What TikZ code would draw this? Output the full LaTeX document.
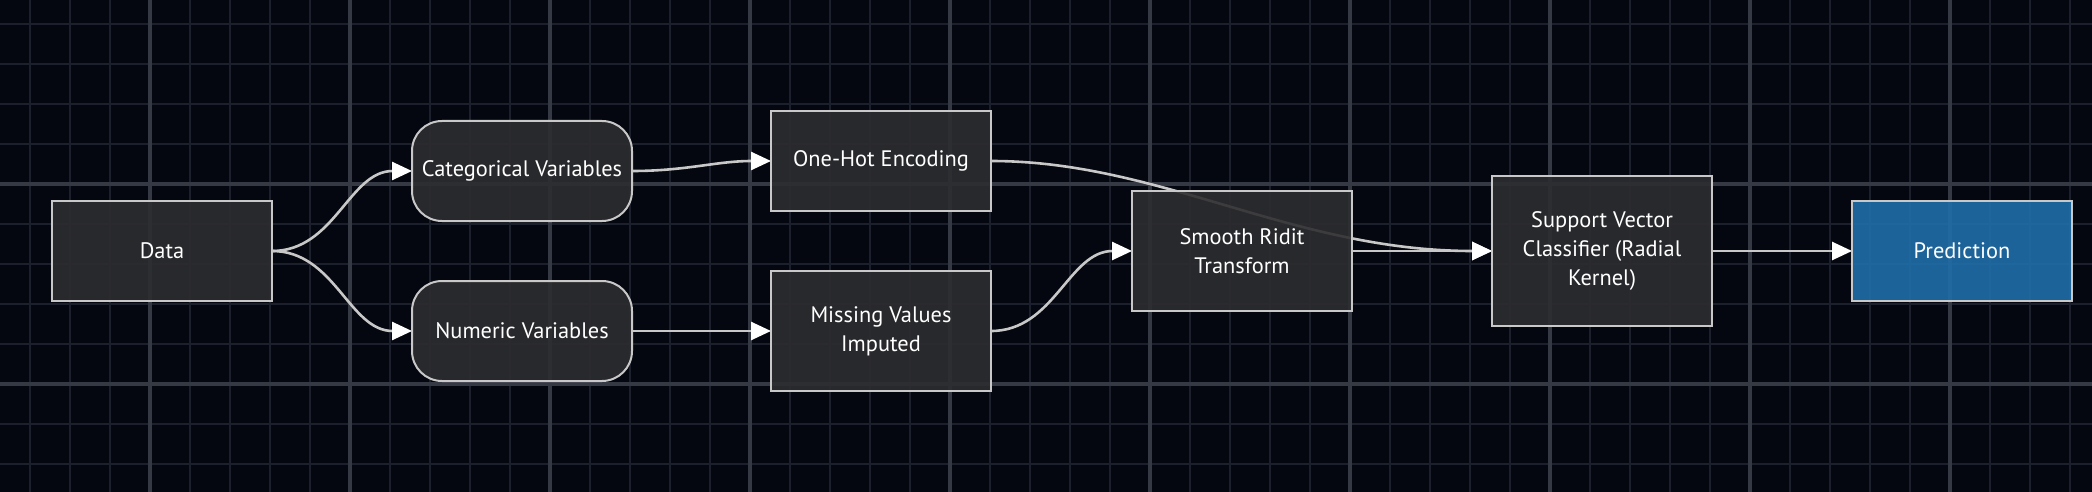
\documentclass[tikz,border=0pt]{standalone}
\usepackage{fontspec}
\setmainfont{PT Sans}
\usetikzlibrary{arrows.meta}

\definecolor{bgcol}{HTML}{04070F}
\definecolor{gridminor}{HTML}{1B202C}
\definecolor{gridmajor}{HTML}{353944}
\definecolor{boxfill}{HTML}{2D2D30}
\definecolor{boxline}{HTML}{C8C8C8}
\definecolor{predfill}{HTML}{1F6EA8}

\pgfdeclarelayer{bg}
\pgfdeclarelayer{edges}
\pgfsetlayers{bg,edges,main}

\tikzset{
  stepbox/.style={rectangle, draw=boxline, line width=1pt, fill=boxfill,
    fill opacity=0.9, text opacity=1, text=white, align=center,
    minimum width=110pt, minimum height=50pt, inner sep=0pt, outer sep=0pt,
    font=\fontsize{11.2}{14.5}\selectfont},
  varbox/.style={stepbox, rounded corners=15pt},
  outbox/.style={stepbox, fill=predfill},
  edge/.style={draw=boxline, line width=1.3pt,
    -{Triangle[length=10pt,width=9pt,fill=white,color=white]}}
}

\begin{document}
\begin{tikzpicture}[x=0.5pt, y=-0.5pt]
  \useasboundingbox (0,0) rectangle (2092,492);
  % Background and grid
  \begin{pgfonlayer}{bg}
    \fill[bgcol] (0,0) rectangle (2092,492);
    \foreach \x in {30,70,...,2090}
      \draw[gridminor, line width=1pt] (\x,0) -- (\x,492);
    \foreach \y in {24,64,...,490}
      \draw[gridminor, line width=1pt] (0,\y) -- (2092,\y);
    \foreach \x in {150,350,...,2050}
      \draw[gridmajor, line width=2pt] (\x,0) -- (\x,492);
    \foreach \y in {184,384}
      \draw[gridmajor, line width=2pt] (0,\y) -- (2092,\y);
  \end{pgfonlayer}

  % Nodes
  \node[stepbox] (data) at (162,251) {Data};
  \node[varbox] (cat) at (522,171) {Categorical Variables};
  \node[varbox] (num) at (522,331) {Numeric Variables};
  \node[stepbox] (onehot) at (881,161) {One-Hot Encoding};
  \node[stepbox, minimum height=60pt] (missing) at (881,331) {Missing Values\\Imputed};
  \node[stepbox, minimum height=60pt] (ridit) at (1242,251) {Smooth Ridit\\Transform};
  \node[stepbox, minimum height=75pt] (svc) at (1602,251) {Support Vector\\Classifier (Radial\\Kernel)};
  \node[outbox] (pred) at (1962,251) {Prediction};

  % Edges
  \begin{pgfonlayer}{edges}
    \draw[edge] (data.east) to[out=0, in=180] (cat.west);
    \draw[edge] (data.east) to[out=0, in=180] (num.west);
    \draw[edge] (cat.east) to[out=0, in=180] (onehot.west);
    \draw[edge] (num.east) -- (missing.west);
    \draw[edge] (missing.east) to[out=0, in=180] (ridit.west);
    \draw[edge] (onehot.east) .. controls +(170,0) and +(-200,0) .. (svc.west);
    \draw[edge] (ridit.east) -- (svc.west);
    \draw[edge] (svc.east) -- (pred.west);
  \end{pgfonlayer}
\end{tikzpicture}
\end{document}
